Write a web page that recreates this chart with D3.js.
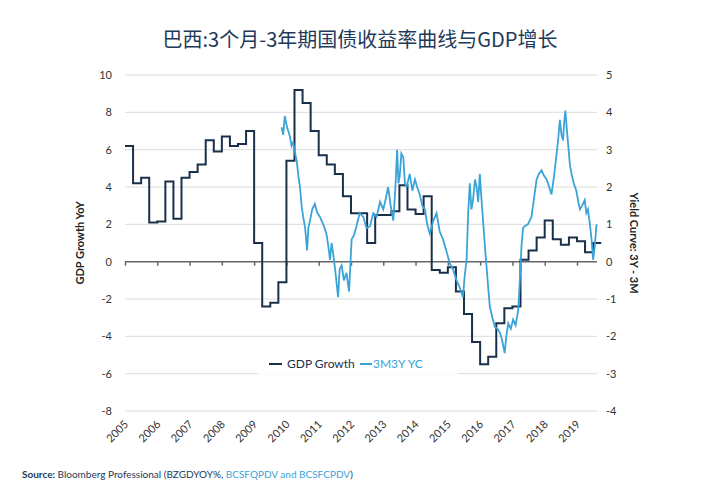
<!DOCTYPE html>
<html><head><meta charset="utf-8">
<script src="https://cdn.jsdelivr.net/npm/d3@7"></script>
<style>body{margin:0;background:#fff}</style></head>
<body><svg id="c" width="720" height="500"></svg>
<script>
const years = [2005,2006,2007,2008,2009,2010,2011,2012,2013,2014,2015,2016,2017,2018,2019];
const leftTicks = [10,8,6,4,2,0,-2,-4,-6,-8];
const rightTicks = [5,4,3,2,1,0,-1,-2,-3,-4];
// GDP growth YoY, quarterly from 2005Q1
const gdp = [6.2,4.2,4.5,2.1, 2.15,4.3,2.3,4.5, 4.8,5.2,6.5,5.9, 6.7,6.2,6.3,7.0,
  1.0,-2.4,-2.2,-1.1, 5.4,9.2,8.5,7.0, 5.7,5.2,4.7,3.5, 2.6,2.6,1.0,2.5,
  2.5,2.7,4.1,2.8, 2.55,3.5,-0.45,-0.6, -0.3,-1.6,-2.8,-4.3, -5.5,-5.1,-3.3,-2.5,
  -2.4,0.1,0.6,1.3, 2.2,1.2,0.9,1.3, 1.1,0.5,1.0];
// 3M3Y yield curve (decimal year offsets from 2005, value)
const ycT = [4.85,4.90,4.95,5.02,5.11,5.16,5.21,5.27,5.32,5.37,5.42,5.47,5.52,5.58,5.64,5.68,5.73,5.80,5.88,5.96,6.04,6.14,6.24,6.30,6.35,6.40,6.45,6.52,6.60,6.65,6.71,6.78,6.86,6.94,7.02,7.09,7.17,7.27,7.38,7.48,7.59,7.69,7.79,7.90,8.00,8.08,8.15,8.23,8.31,8.37,8.43,8.47,8.51,8.56,8.62,8.67,8.72,8.82,8.90,8.98,9.05,9.13,9.21,9.29,9.36,9.44,9.55,9.65,9.75,9.85,9.95,10.06,10.16,10.27,10.37,10.47,10.52,10.58,10.63,10.68,10.73,10.78,10.84,10.89,10.94,10.99,11.04,11.09,11.15,11.20,11.25,11.30,11.38,11.46,11.54,11.61,11.68,11.76,11.81,11.87,11.95,12.02,12.10,12.18,12.23,12.28,12.33,12.38,12.48,12.59,12.67,12.75,12.82,12.90,12.98,13.06,13.14,13.21,13.29,13.37,13.42,13.47,13.52,13.57,13.60,13.64,13.68,13.72,13.78,13.83,13.90,13.98,14.04,14.09,14.16,14.24,14.29,14.34,14.40,14.45,14.50,14.55,14.60,14.62];
const ycV = [3.6,3.4,3.9,3.6,3.35,3.1,3.2,2.9,2.7,2.3,2.0,1.5,1.2,0.9,0.3,0.9,1.1,1.4,1.55,1.3,1.2,1.0,0.75,0.4,0.05,0.5,0.2,-0.3,-0.95,-0.2,-0.1,-0.5,-0.3,-0.8,0.6,0.7,0.95,1.3,1.2,0.9,0.95,1.3,1.2,1.6,1.4,1.7,2.0,1.5,1.1,1.9,3.0,2.1,2.3,2.9,2.8,2.1,2.0,2.35,1.9,2.2,2.0,1.8,1.5,1.4,1.0,0.75,1.1,1.3,0.8,0.6,0.3,-0.05,-0.2,-0.5,-0.7,-0.95,-0.4,0.05,1.3,2.1,1.4,1.65,2.2,2.0,1.6,2.35,1.7,1.1,0.4,-0.15,-0.7,-1.2,-1.5,-1.75,-1.8,-1.9,-2.1,-2.45,-2.0,-1.65,-1.8,-1.55,-1.7,-1.3,-0.5,0.4,0.9,0.95,1.0,1.2,1.7,2.2,2.35,2.45,2.3,2.2,2.0,1.8,2.3,2.9,3.3,3.8,3.4,3.25,3.7,4.05,3.6,3.2,2.6,2.35,2.1,1.9,1.6,1.4,1.5,1.65,1.3,1.4,1.0,0.6,0.05,0.4,0.95,1.0];
const ycX = ycT.map(t => 2005 + t);

const svg = d3.select("#c");
const x = d3.scaleLinear().domain([2005, 2019.62]).range([125, 597]);
const yL = d3.scaleLinear().domain([-8, 10]).range([411, 75]);
const yR = d3.scaleLinear().domain([-4, 5]).range([411, 75]);
const font = "Lato, 'Noto Sans CJK SC', sans-serif";

svg.append("text").attr("x", 360).attr("y", 47).attr("text-anchor", "middle")
  .attr("font-family", "'Noto Sans CJK SC', sans-serif").attr("font-size", 20).attr("fill", "#1e3a5a")
  .text("巴西:3个月-3年期国债收益率曲线与GDP增长");

svg.append("g").selectAll("line").data(leftTicks.filter(d => d !== 0)).join("line")
  .attr("x1", 125).attr("x2", 597).attr("y1", d => yL(d)).attr("y2", d => yL(d))
  .attr("stroke", "#dcdcdc").attr("stroke-width", 1);

svg.append("g").selectAll("text").data(leftTicks).join("text")
  .attr("x", 112).attr("y", d => yL(d) + 4).attr("text-anchor", "end")
  .attr("font-family", font).attr("font-size", 11).attr("fill", "#333").text(d => d);
svg.append("g").selectAll("text").data(rightTicks).join("text")
  .attr("x", 606).attr("y", d => yR(d) + 4).attr("text-anchor", "start")
  .attr("font-family", font).attr("font-size", 11).attr("fill", "#333").text(d => d);

svg.append("text").attr("transform", `translate(84,${yL(1)}) rotate(-90)`).attr("text-anchor", "middle")
  .attr("font-family", font).attr("font-size", 11).attr("font-weight", 700).attr("fill", "#222").text("GDP Growth YoY");
svg.append("text").attr("transform", `translate(630,${yL(1)}) rotate(90)`).attr("text-anchor", "middle")
  .attr("font-family", font).attr("font-size", 11).attr("font-weight", 700).attr("fill", "#222").text("Yield Curve: 3Y - 3M");

// zero axis with ticks
const zeroAxis = d3.axisBottom(x).tickValues(years).tickSize(4).tickFormat("");
const zg = svg.append("g").attr("transform", `translate(0,${yL(0)})`).call(zeroAxis);
zg.selectAll("line,path").attr("stroke", "#666").attr("stroke-width", 1.5);
zg.select("path").attr("d", `M125,0H597`);

svg.append("g").selectAll("text").data(years).join("text")
  .attr("transform", d => `translate(${x(d) + 4},${yL(-8) + 14}) rotate(-45)`)
  .attr("text-anchor", "end").attr("font-family", font).attr("font-size", 11).attr("fill", "#333").text(d => d);

// GDP step line
const gdpPts = gdp.map((v, i) => [2005 + i / 4, v]);
gdpPts.push([2005 + gdp.length / 4, gdp[gdp.length - 1]]);
svg.append("path").datum(gdpPts)
  .attr("d", d3.line().x(d => x(d[0])).y(d => yL(d[1])).curve(d3.curveStepAfter))
  .attr("fill", "none").attr("stroke", "#1b2f4a").attr("stroke-width", 2);

svg.append("path").datum(ycX.map((t, i) => [t, ycV[i]]))
  .attr("d", d3.line().x(d => x(d[0])).y(d => yR(d[1])))
  .attr("fill", "none").attr("stroke", "#3aa3d8").attr("stroke-width", 1.8);

// legend
const lg = svg.append("g");
lg.append("rect").attr("x", 258).attr("y", 352).attr("width", 200).attr("height", 22).attr("fill", "#fff");
lg.append("line").attr("x1", 269).attr("x2", 282).attr("y1", 364).attr("y2", 364).attr("stroke", "#1b2f4a").attr("stroke-width", 2);
lg.append("text").attr("x", 287).attr("y", 368).attr("font-family", font).attr("font-size", 12).attr("fill", "#1b2f4a").text("GDP Growth");
lg.append("line").attr("x1", 360).attr("x2", 372).attr("y1", 364).attr("y2", 364).attr("stroke", "#3aa3d8").attr("stroke-width", 2);
lg.append("text").attr("x", 373).attr("y", 368).attr("font-family", font).attr("font-size", 12).attr("fill", "#3aa3d8").text("3M3Y YC");

const src = svg.append("text").attr("x", 22).attr("y", 478).attr("font-family", font).attr("font-size", 10).attr("fill", "#1e3a5a");
src.append("tspan").attr("font-weight", 700).text("Source: ");
src.append("tspan").text("Bloomberg Professional (BZGDYOY%, ");
src.append("tspan").attr("fill", "#3aa3d8").text("BCSFQPDV and BCSFCPDV");
src.append("tspan").text(")");
</script></body></html>
